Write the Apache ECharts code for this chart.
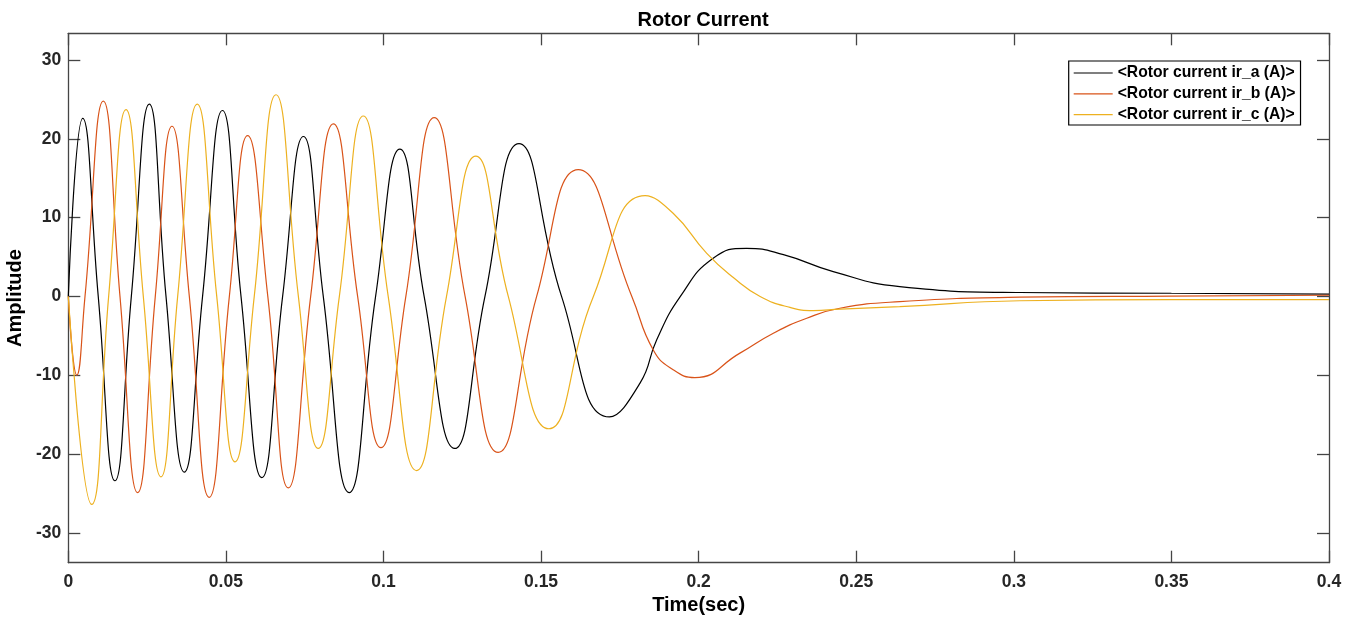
<!DOCTYPE html>
<html><head><meta charset="utf-8">
<script src="https://cdn.jsdelivr.net/npm/echarts@6/dist/echarts.min.js"></script>
<style>html,body{margin:0;padding:0;background:#fff}#c{width:1356px;height:621px}</style>
</head><body><div id="c"></div>
<script>
const titleText = 'Rotor Current';
const xName = 'Time(sec)';
const yName = 'Amplitude';
const seriesNames = ['<Rotor current ir_a (A)>', '<Rotor current ir_b (A)>', '<Rotor current ir_c (A)>'];
const seriesColors = ['#000000', '#D95319', '#EDB120'];

// [time (s), current (A)]: extrema, zero crossings and a few in-between points
const irA = [[0,0],[0.00457,22.6],[0.0095,0],[0.0148,-23.4],[0.0200,0],[0.0257,24.4],[0.0310,0],[0.0368,-22.3],
  [0.0426,0],[0.0489,23.6],[0.0548,0],[0.0614,-23.0],[0.0680,0],[0.0746,20.3],[0.0809,0],[0.0891,-24.9],
  [0.0975,0],[0.1052,18.7],[0.1129,0],[0.1226,-19.3],[0.1322,0],[0.1430,19.4],[0.1565,0],[0.1717,-15.3],
  [0.1814,-11.0],[0.1867,-5.5],[0.1942,0],[0.2046,4.85],[0.2152,6.1],[0.2269,5.3],[0.2427,3.15],[0.2638,1.25],
  [0.3019,0.5],[0.35,0.4],[0.4,0.3]];
const irB = [[0,0],[0.0027,-10.0],[0.0053,0],[0.0111,24.8],[0.0164,0],[0.0220,-24.9],[0.0276,0],[0.0329,21.6],
  [0.0384,0],[0.0447,-25.5],[0.0511,0],[0.0569,20.4],[0.0633,0],[0.0698,-24.3],[0.0769,0],[0.0841,21.9],
  [0.0918,0],[0.0992,-19.2],[0.1071,0],[0.1161,22.7],[0.1259,0],[0.1364,-19.8],[0.1486,0],[0.1618,16.1],
  [0.1788,0],[0.1856,-6.8],[0.1919,-9.3],[0.1988,-10.3],[0.2131,-7.2],[0.2237,-4.67],[0.2343,-2.77],
  [0.2448,-1.5],[0.2638,-0.66],[0.3019,-0.1],[0.35,0.05],[0.4,0.15]];
const irC = [[0,0],[0.0074,-26.4],[0.0128,0],[0.0183,23.7],[0.0238,0],[0.0294,-22.9],[0.0347,0],[0.0409,24.4],
  [0.0471,0],[0.0529,-21.0],[0.0590,0],[0.0659,25.6],[0.0730,0],[0.0793,-19.3],[0.0860,0],[0.0936,22.9],
  [0.1015,0],[0.1105,-22.1],[0.1200,0],[0.1293,17.8],[0.1396,0],[0.1525,-16.8],[0.1666,0],[0.1830,12.8],
  [0.1919,10.55],[0.2025,5.5],[0.2110,2.4],[0.2195,0],[0.2290,-1.4],[0.2364,-1.8],[0.2450,-1.6],
  [0.2638,-1.3],[0.3019,-0.55],[0.35,-0.4],[0.4,-0.4]];

const xTicks = [0,0.05,0.1,0.15,0.2,0.25,0.3,0.35,0.4];
const yTicks = [-30,-20,-10,0,10,20,30];
const xRange = [0, 0.4];
const yRange = [-33.8, 33.4];

const FONT = '"Liberation Sans", Arial, Helvetica, sans-serif';
const axisColor = '#454545';
const labelColor = '#262626';

function xAxisDef(pos, showLabel) {
  return {
    type: 'value', position: pos, min: xRange[0], max: xRange[1],
    name: showLabel ? xName : '', nameLocation: 'middle', nameGap: 33,
    nameTextStyle: {fontFamily: FONT, fontWeight: 'bold', fontSize: 20, color: '#000'},
    axisLine: {show: true, onZero: false, lineStyle: {color: axisColor, width: 1.3}},
    axisTick: {show: true, inside: true, length: 12, customValues: xTicks, lineStyle: {color: axisColor, width: 1.3}},
    axisLabel: {show: showLabel, customValues: xTicks, margin: 10, formatter: v => String(v),
      fontFamily: FONT, fontWeight: 'bold', fontSize: 17.5, color: labelColor},
    splitLine: {show: false}
  };
}
function yAxisDef(pos, showLabel) {
  return {
    type: 'value', position: pos, min: yRange[0], max: yRange[1],
    name: showLabel ? yName : '', nameLocation: 'middle', nameGap: 35,
    nameTextStyle: {fontFamily: FONT, fontWeight: 'bold', fontSize: 20, color: '#000'},
    axisLine: {show: true, onZero: false, lineStyle: {color: axisColor, width: 1.3}},
    axisTick: {show: true, inside: true, length: 12, customValues: yTicks, lineStyle: {color: axisColor, width: 1.3}},
    axisLabel: {show: showLabel, customValues: yTicks, margin: 7,
      fontFamily: FONT, fontWeight: 'bold', fontSize: 17.5, color: labelColor},
    splitLine: {show: false}
  };
}

const dataSets = [irA, irB, irC];
const chart = echarts.init(document.getElementById('c'), null, {renderer: 'canvas'});
chart.setOption({
  backgroundColor: '#ffffff',
  animation: false,
  title: {text: titleText, left: 698, top: 5, textAlign: 'center',
    textStyle: {fontFamily: FONT, fontWeight: 'bold', fontSize: 20, color: '#000'}},
  grid: {left: 68.3, right: 27, top: 33.3, bottom: 58.3, containLabel: false, outerBoundsMode: 'none'},
  legend: {
    orient: 'vertical', left: 1068.7, top: 61,
    data: seriesNames,
    icon: 'rect',
    itemWidth: 39, itemHeight: 1.2, itemGap: 4.8,
    padding: [4, 5, 2.4, 5],
    borderColor: '#000', borderWidth: 1.2, backgroundColor: '#fff', borderRadius: 0,
    textStyle: {fontFamily: FONT, fontWeight: 'bold', fontSize: 15.7, color: '#000', lineHeight: 16, height: 16}
  },
  xAxis: [xAxisDef('bottom', true), xAxisDef('top', false)],
  yAxis: [yAxisDef('left', true), yAxisDef('right', false)],
  series: dataSets.map((d, i) => ({
    name: seriesNames[i], type: 'line', data: d, xAxisIndex: 0, yAxisIndex: 0,
    smooth: 0.5, symbol: 'none', showSymbol: false,
    lineStyle: {color: seriesColors[i], width: 1.2},
    itemStyle: {color: seriesColors[i]}
  }))
});
</script></body></html>
